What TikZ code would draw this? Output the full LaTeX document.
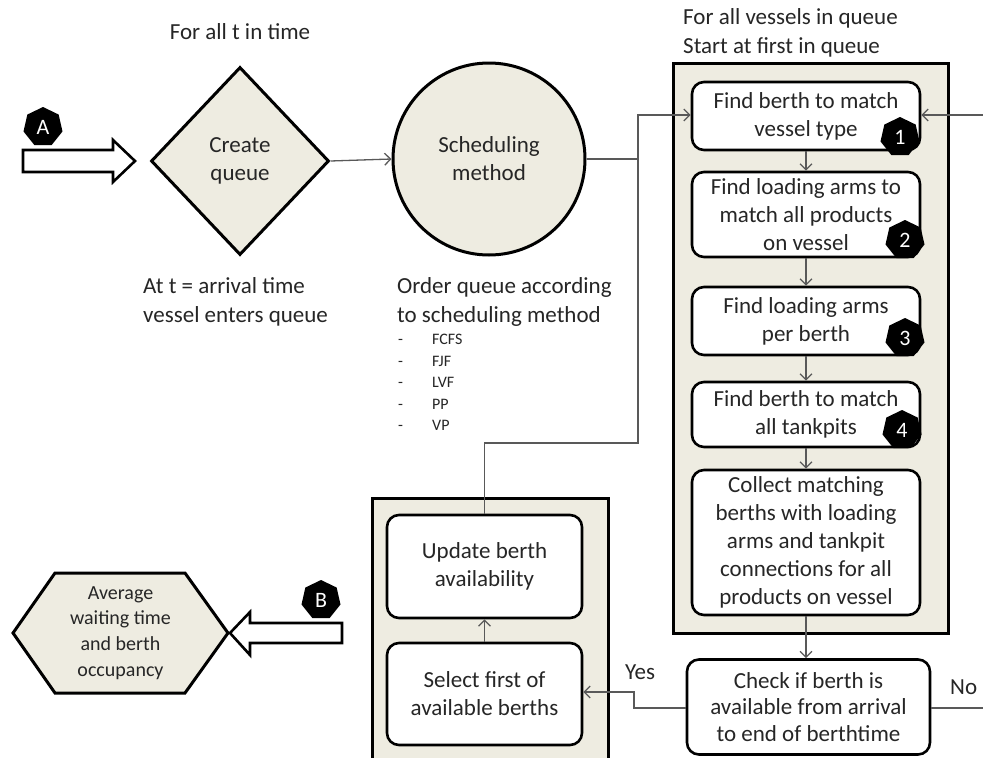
\documentclass[tikz,border=0pt]{standalone}
\usepackage{fontspec}
\setmainfont{Carlito}
\usetikzlibrary{shapes.geometric,arrows.meta}
\definecolor{beige}{HTML}{EEECE1}
\definecolor{conn}{HTML}{595959}
\definecolor{txt}{HTML}{262626}
\newcommand{\itemdash}[1]{\makebox[34pt][l]{-}#1}
\tikzset{
  main/.style={font=\fontsize{23}{28}\selectfont, text=txt, align=center},
  lbl/.style={font=\fontsize{23}{29}\selectfont, text=txt, align=left, inner sep=0},
  small/.style={font=\fontsize{16}{21.5}\selectfont, text=txt, align=left, anchor=north west, inner sep=0},
  stepbox/.style={main, draw=black, line width=2.6pt, fill=white, rounded corners=12pt, inner sep=0, minimum width=228, minimum height=68},
  frame/.style={draw=black, line width=3pt, fill=beige},
  shp/.style={main, draw=black, line width=3pt, fill=beige, inner sep=0},
  badge/.style={regular polygon, regular polygon sides=7, fill=black, minimum size=40, inner sep=0, text=white, font=\fontsize{22}{22}\selectfont},
  cn/.style={draw=conn, line width=1.3pt},
  ar/.style={cn, -{Straight Barb[length=6pt,width=12pt,line width=1.3pt]}},
  blockarrow/.style={draw=black, line width=2.6pt, fill=white, line join=miter},
}
\begin{document}
\begin{tikzpicture}[x=1pt,y=-1pt]
\clip (0,0) rectangle (983,758);
\fill[white] (0,0) rectangle (983,758);

% frames
\draw[frame] (673,63) rectangle (948,633);
\draw[frame] (372,498) rectangle (608,775);

% top-left
\node[main] (t1) at (240,32) {For all t in time};
\node[badge] (bA) at (43,127) {A};
\draw[blockarrow] (23,150) -- (113,150) -- (113,140) -- (135,161) -- (113,182) -- (113,172) -- (23,172) -- cycle;
\node[shp, shape=diamond, minimum width=178, minimum height=188] (dq) at (240,161) {Create\\queue};
\node[shp, shape=circle, minimum size=192] (sm) at (489,159) {Scheduling\\method};
\node[lbl, anchor=west] (at1) at (143,302) {At t = arrival time\\vessel enters queue};
\node[lbl, anchor=west] (oq) at (397,302) {Order queue according\\to scheduling method};
\node[small] (lst) at (398,334) {\itemdash{FCFS}\\\itemdash{FJF}\\\itemdash{LVF}\\\itemdash{PP}\\\itemdash{VP}};

% right column
\node[lbl, anchor=west] (fv) at (683,33) {For all vessels in queue\\Start at first in queue};
\node[stepbox] (b1) at (806,116) {Find berth to match\\vessel type};
\node[stepbox, minimum height=85] (b2) at (806,214.5) {Find loading arms to\\match all products\\on vessel};
\node[stepbox] (b3) at (806,321) {Find loading arms\\per berth};
\node[stepbox, minimum height=65] (b4) at (806,414.5) {Find berth to match\\all tankpits};
\node[stepbox, minimum height=145] (b5) at (806,542.5) {Collect matching\\berths with loading\\arms and tankpit\\connections for all\\products on vessel};
\node[stepbox, minimum width=243, minimum height=95, font=\fontsize{23}{26.5}\selectfont] (chk) at (808.5,707) {Check if berth is\\available from arrival\\to end of berthtime};
\node[badge] (n1) at (900,137) {1};
\node[badge] (n2) at (905,240) {2};
\node[badge] (n3) at (905,338) {3};
\node[badge] (n4) at (902,430) {4};

% left bottom
\node[stepbox, minimum width=195, minimum height=103] (upd) at (484.5,566.5) {Update berth\\availability};
\node[stepbox, minimum width=195, minimum height=102] (sel) at (484.5,694) {Select first of\\available berths};

% hexagon
\draw[draw=black, line width=3pt, fill=beige, line join=miter] (13,633) -- (55,573) -- (185,573) -- (228,633) -- (185,693) -- (55,693) -- cycle;
\node[main, font=\fontsize{20}{25.7}\selectfont] (avg) at (120.5,633) {Average\\waiting time\\and berth\\occupancy};
\node[badge] (bB) at (321,600) {B};
\draw[blockarrow] (342,623) -- (250,623) -- (250,612) -- (230,633) -- (250,655) -- (250,643) -- (342,643) -- cycle;

% connectors
\coordinate (j1) at (638,443);
\coordinate (j2) at (638,115);
\coordinate (ret) at (983,115);
\coordinate (noend) at (983,708);
\draw[ar] (dq.east) -- (sm.west);
\draw[ar] (sm.east) -| (j2) -- (b1.west |- j2);
\draw[cn] (upd.north) |- (j1) -- (638,159);
\draw[ar] (ret) -- (b1.east |- ret);
\draw[ar] (b1.south) -- (b2.north);
\draw[ar] (b2.south) -- (b3.north);
\draw[ar] (b3.south) -- (b4.north);
\draw[ar] (b4.south) -- (b5.north);
\draw[ar] (b5.south) -- (b5.south |- chk.north);
\draw[ar] (chk.west |- noend) -- (634,708) -- (634,692) -- (sel.east |- 0,692);
\draw[cn] (chk.east |- noend) -- (noend);
\draw[ar] (sel.north) -- (upd.south);
\node[main, anchor=center] (yes) at (640,672) {Yes};
\node[main, anchor=west, inner sep=0] (no) at (950,687) {No};
\end{tikzpicture}
\end{document}
